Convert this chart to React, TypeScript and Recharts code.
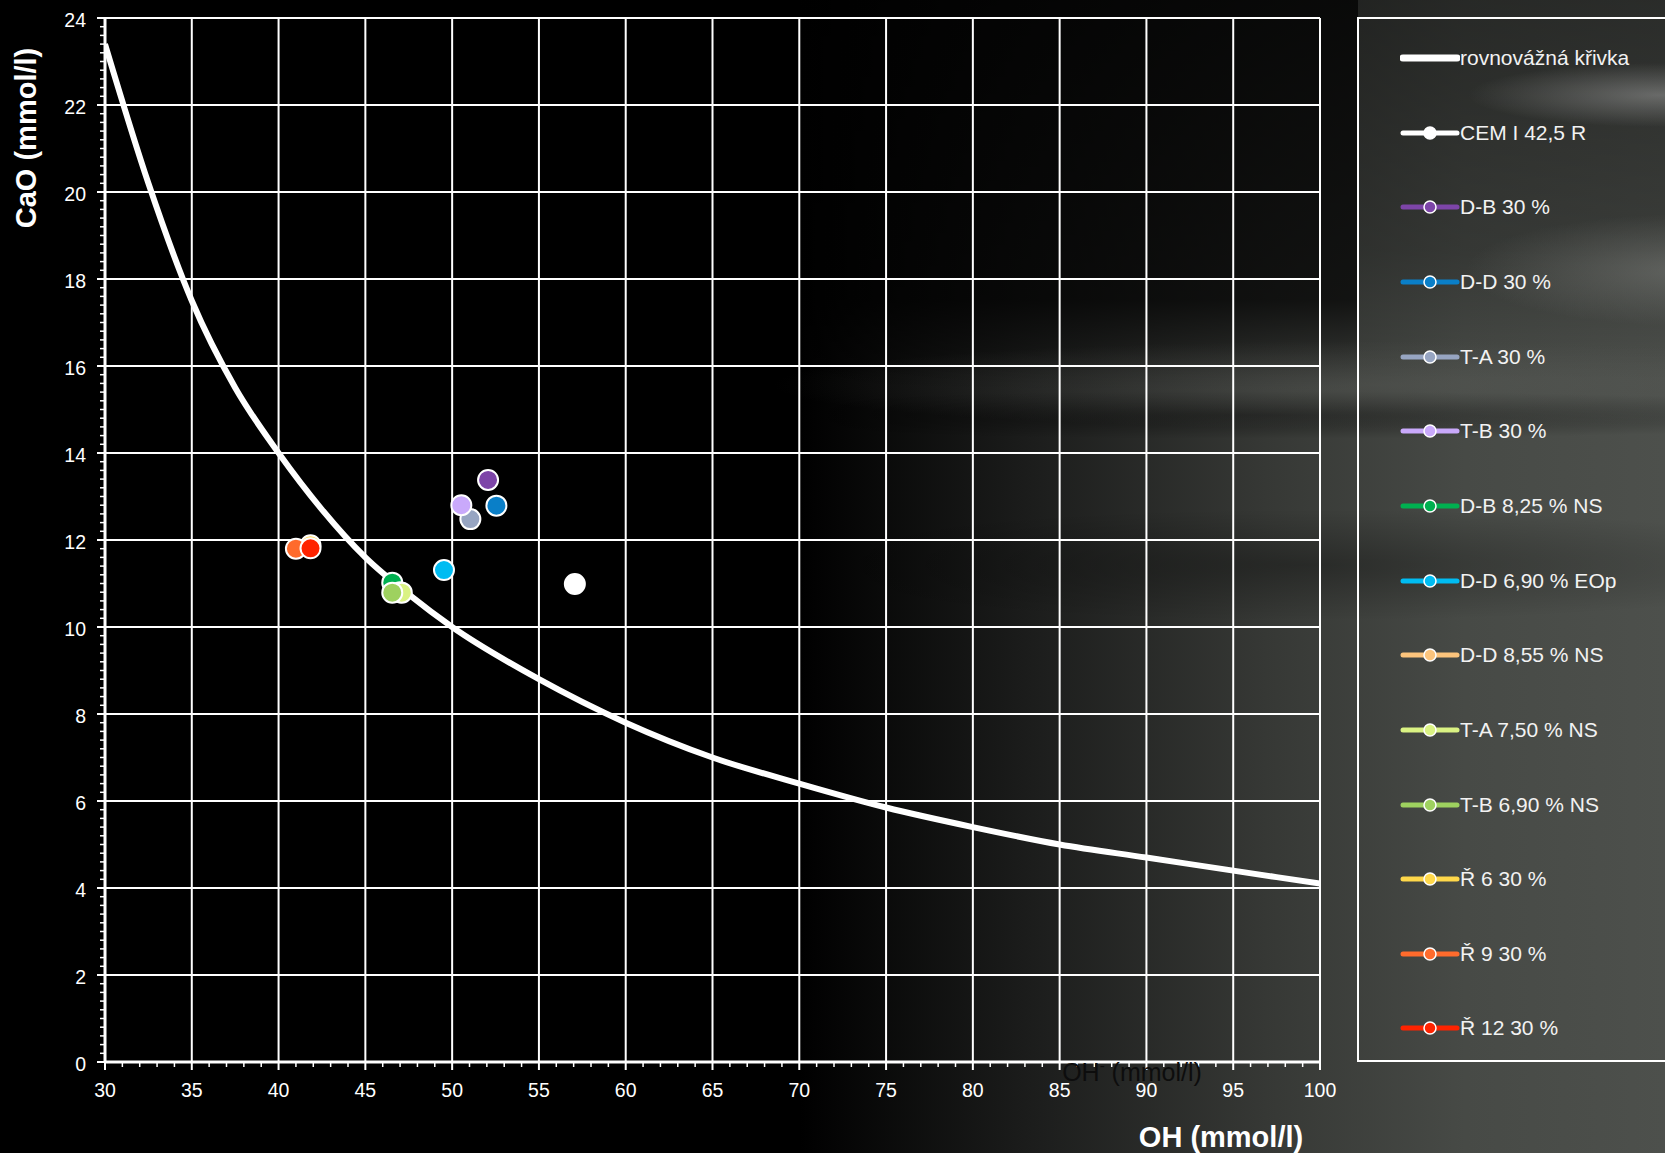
import React from "react";
import { ComposedChart, Line, Scatter, XAxis, YAxis, CartesianGrid } from "recharts";

const FONT = "'Liberation Sans', Arial, Helvetica, sans-serif";

// rovnovážná křivka (equilibrium curve)
const curveOH = [30, 32.5, 35, 37.5, 40, 42.5, 45, 47.5, 50, 55, 60, 65, 70, 75, 80, 85, 90, 95, 100];
const curveCaO = [23.4, 20.2, 17.5, 15.5, 14.0, 12.7, 11.6, 10.75, 10.0, 8.8, 7.8, 7.0, 6.4, 5.85, 5.4, 5.0, 4.7, 4.4, 4.1];

// measured mixes, one point each
const seriesNames = [
  "CEM I 42,5 R",
  "D-B 30 %",
  "D-D 30 %",
  "T-A 30 %",
  "T-B 30 %",
  "D-B 8,25 % NS",
  "D-D 6,90 % EOp",
  "D-D 8,55 % NS",
  "T-A 7,50 % NS",
  "T-B 6,90 % NS",
  "Ř 6 30 %",
  "Ř 9 30 %",
  "Ř 12 30 %",
];
const seriesColors = [
  "#ffffff", "#7d45a8", "#0a7fc8", "#97a5c2", "#c9a9fb", "#00b050", "#00bcf2",
  "#fcc47c", "#daf283", "#9ed15f", "#ffd84a", "#ff6b2c", "#ff2300",
];
const pointOH = [57.07, 52.07, 52.55, 51.05, 50.53, 46.55, 49.53, 47.0, 47.1, 46.55, 41.84, 41.0, 41.84];
const pointCaO = [10.99, 13.38, 12.79, 12.48, 12.8, 11.02, 11.31, 10.8, 10.79, 10.79, 11.88, 11.8, 11.81];

const xMajorTicks = [30, 35, 40, 45, 50, 55, 60, 65, 70, 75, 80, 85, 90, 95, 100];
const yMajorTicks = [0, 2, 4, 6, 8, 10, 12, 14, 16, 18, 20, 22, 24];
// minor tick marks: every 1 on x, every 0.2 on y
const xMinorTicks = Array.from({ length: 71 }, (_, i) => 30 + i);
const yMinorTicks = Array.from({ length: 121 }, (_, i) => i / 5);

const curveData = curveOH.map((oh, i) => ({ oh, cao: curveCaO[i] }));

function XTick(props: any) {
  const { x, y, payload } = props;
  const v = payload.value;
  const major = v % 5 === 0;
  return (
    <g>
      <line x1={x} x2={x} y1={y} y2={y + (major ? 8 : 5)} stroke="#fff" strokeWidth={major ? 2 : 1.5} />
      {major && (
        <text x={x} y={y + 28} textAnchor="middle" dominantBaseline="central" fill="#fff" fontSize={19.5} fontFamily={FONT}>
          {v}
        </text>
      )}
    </g>
  );
}

function YTick(props: any) {
  const { x, y, payload } = props;
  const v = payload.value;
  const major = Math.round(v * 5) % 10 === 0;
  return (
    <g>
      <line x1={x} x2={x - (major ? 8 : 5)} y1={y} y2={y} stroke="#fff" strokeWidth={major ? 2 : 1.5} />
      {major && (
        <text x={x - 19} y={y + 2} textAnchor="end" dominantBaseline="central" fill="#fff" fontSize={19.5} fontFamily={FONT}>
          {Math.round(v)}
        </text>
      )}
    </g>
  );
}

const pointShape = (color: string) => (props: any) =>
  <circle cx={props.cx} cy={props.cy} r={10} fill={color} stroke="#fff" strokeWidth={2} />;

function LegendBox() {
  const rows = [{ name: "rovnovážná křivka", color: "#ffffff", curve: true }].concat(
    seriesNames.map((name, i) => ({ name, color: seriesColors[i], curve: false }))
  );
  return (
    <div
      style={{
        position: "absolute",
        left: 1357,
        top: 17,
        width: 360,
        height: 1045,
        border: "2px solid #fff",
        boxSizing: "border-box",
      }}
    >
      {rows.map((r, i) => (
        <div key={r.name} style={{ position: "absolute", left: 41, top: 39 + i * 74.65 - 12, height: 24, display: "flex", alignItems: "center" }}>
          <svg width={60} height={24} style={{ display: "block" }}>
            <line x1={3} x2={57} y1={12} y2={12} stroke={r.color} strokeWidth={r.curve ? 7 : 5} strokeLinecap="round" />
            {!r.curve && <circle cx={30} cy={12} r={6} fill={r.color} stroke="#fff" strokeWidth={1.5} />}
          </svg>
          <span style={{ color: "#f2f2f2", fontFamily: FONT, fontSize: 21, whiteSpace: "nowrap" }}>{r.name}</span>
        </div>
      ))}
    </div>
  );
}

export default function App() {
  return (
    <div
      style={{
        position: "absolute",
        left: 0,
        top: 0,
        width: 1665,
        height: 1153,
        overflow: "hidden",
        background: [
          "radial-gradient(ellipse 240px 40px at 1660px 95px, rgba(190,190,190,0.4), rgba(0,0,0,0) 80%)",
          "radial-gradient(ellipse 280px 70px at 1690px 270px, rgba(140,142,138,0.45), rgba(0,0,0,0) 80%)",
          "radial-gradient(ellipse 760px 55px at 1380px 385px, rgba(95,97,93,0.35), rgba(0,0,0,0) 80%)",
          "radial-gradient(ellipse 850px 30px at 1250px 415px, rgba(0,0,0,0.4), rgba(0,0,0,0) 80%)",
          "radial-gradient(ellipse 700px 70px at 1300px 565px, rgba(0,0,0,0.3), rgba(0,0,0,0) 80%)",
          "linear-gradient(to bottom, rgba(0,0,0,0.85) 0px, rgba(0,0,0,0.7) 300px, rgba(0,0,0,0) 390px) 0px 0px / 1358px 400px no-repeat",
          "linear-gradient(to bottom, rgba(0,0,0,0.45) 0px, rgba(0,0,0,0.25) 250px, rgba(0,0,0,0) 380px) 1358px 0px / 307px 400px no-repeat",
          "linear-gradient(to right, #000 0%, #000 48%, #1c1d1c 62%, #363835 76%, #474a46 88%, #4d504c 100%)",
        ].join(", "),
      }}
    >
      <ComposedChart width={1665} height={1153} margin={{ top: 18, right: 345, bottom: 51, left: 45 }}>
        <CartesianGrid
          stroke="#ffffff"
          strokeWidth={2}
          verticalValues={xMajorTicks}
          horizontalValues={yMajorTicks}
        />
        <XAxis
          type="number"
          dataKey="oh"
          domain={[30, 100]}
          ticks={xMinorTicks}
          interval={0}
          allowDataOverflow
          height={40}
          tickSize={0}
          tickMargin={0}
          tickLine={false}
          tick={<XTick />}
          axisLine={{ stroke: "#fff", strokeWidth: 3 }}
        />
        <YAxis
          type="number"
          dataKey="cao"
          domain={[0, 24]}
          ticks={yMinorTicks}
          interval={0}
          allowDataOverflow
          width={60}
          tickSize={0}
          tickMargin={0}
          tickLine={false}
          tick={<YTick />}
          axisLine={{ stroke: "#fff", strokeWidth: 3 }}
        />
        <Line
          data={curveData}
          dataKey="cao"
          type="monotone"
          stroke="#ffffff"
          strokeWidth={6}
          dot={false}
          isAnimationActive={false}
          name="rovnovážná křivka"
        />
        {seriesNames.map((name, i) => (
          <Scatter
            key={name}
            name={name}
            data={[{ oh: pointOH[i], cao: pointCaO[i] }]}
            dataKey="cao"
            fill={seriesColors[i]}
            shape={pointShape(seriesColors[i])}
            isAnimationActive={false}
          />
        ))}
      </ComposedChart>

      <div
        style={{
          position: "absolute",
          left: 26,
          top: 138,
          transform: "translate(-50%, -50%) rotate(-90deg)",
          color: "#fff",
          fontFamily: FONT,
          fontWeight: "bold",
          fontSize: 29,
          whiteSpace: "nowrap",
        }}
      >
        CaO (mmol/l)
      </div>
      <div
        style={{
          position: "absolute",
          left: 1221,
          top: 1137,
          transform: "translate(-50%, -50%)",
          color: "#fff",
          fontFamily: FONT,
          fontWeight: "bold",
          fontSize: 29,
          whiteSpace: "nowrap",
        }}
      >
        OH (mmol/l)
      </div>
      <div
        style={{
          position: "absolute",
          left: 1132,
          top: 1072,
          transform: "translate(-50%, -50%)",
          color: "#0d0d0d",
          fontFamily: FONT,
          fontSize: 25,
          whiteSpace: "nowrap",
        }}
      >
        OH<sup style={{ fontSize: 15 }}>-</sup> (mmol/l)
      </div>
      <LegendBox />
    </div>
  );
}
